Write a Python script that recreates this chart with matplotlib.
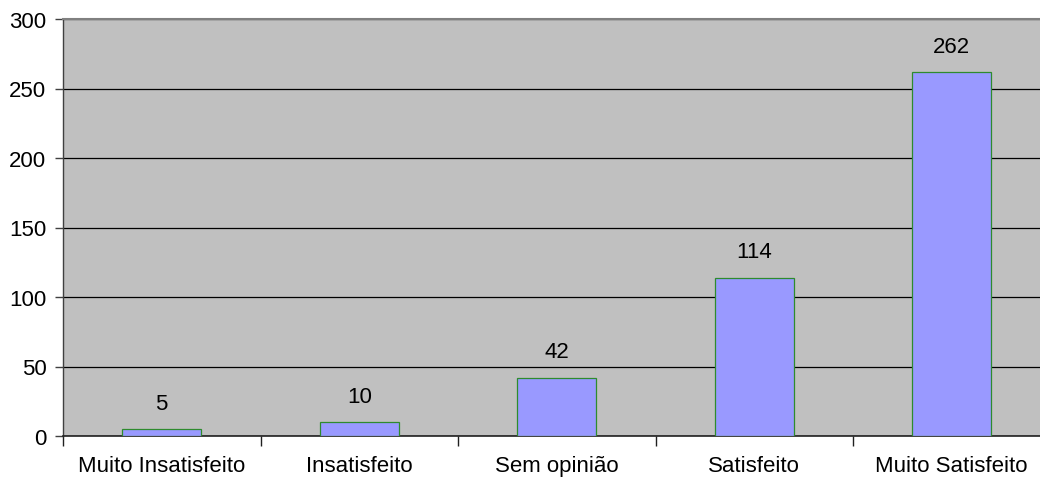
import matplotlib.pyplot as plt
import numpy as np

categories = ["Muito Insatisfeito", "Insatisfeito", "Sem opinião", "Satisfeito", "Muito Satisfeito"]
values = [5, 10, 42, 114, 262]
y_ticks = [0, 50, 100, 150, 200, 250, 300]

plt.rcParams["font.family"] = ["Liberation Sans", "DejaVu Sans"]

fig = plt.figure(figsize=(10.4, 4.81), dpi=100)
# plot area runs a bit past the right edge of the image, as in the original
ax = fig.add_axes([63 / 1040, 44 / 481, 987.5 / 1040, 417 / 481])
ax.set_facecolor("#C0C0C0")

x = np.arange(len(categories))
ax.bar(x, values, width=0.4, color="#9999FF", edgecolor="#2E8B2E", linewidth=0.9, zorder=3)

for xi, v in zip(x, values):
    ax.annotate(str(v), (xi, v), xytext=(0, 11), textcoords="offset points",
                ha="center", va="bottom", fontsize=16)

ax.set_xlim(-0.5, len(categories) - 0.5)
ax.set_ylim(0, 300)
ax.set_yticks(y_ticks)
ax.set_yticklabels([str(t) for t in y_ticks], fontsize=16)
ax.yaxis.grid(True, color="black", linewidth=0.9, zorder=1)
ax.set_axisbelow(True)

ax.set_xticks(x)
ax.set_xticklabels(categories, fontsize=16)
ax.tick_params(axis="x", which="major", length=0, pad=14)
ax.set_xticks(np.arange(-0.5, len(categories)), minor=True)
ax.tick_params(axis="x", which="minor", length=7, width=1, color="#202020")
ax.tick_params(axis="y", length=6, width=1, color="#404040", pad=6)

ax.spines["top"].set_color("#808080")
ax.spines["top"].set_linewidth(1.5)
ax.spines["right"].set_visible(False)
ax.spines["left"].set_color("#404040")
ax.spines["left"].set_linewidth(1)
ax.spines["bottom"].set_color("#202020")
ax.spines["bottom"].set_linewidth(1.2)

plt.savefig("out.png", dpi=100)
